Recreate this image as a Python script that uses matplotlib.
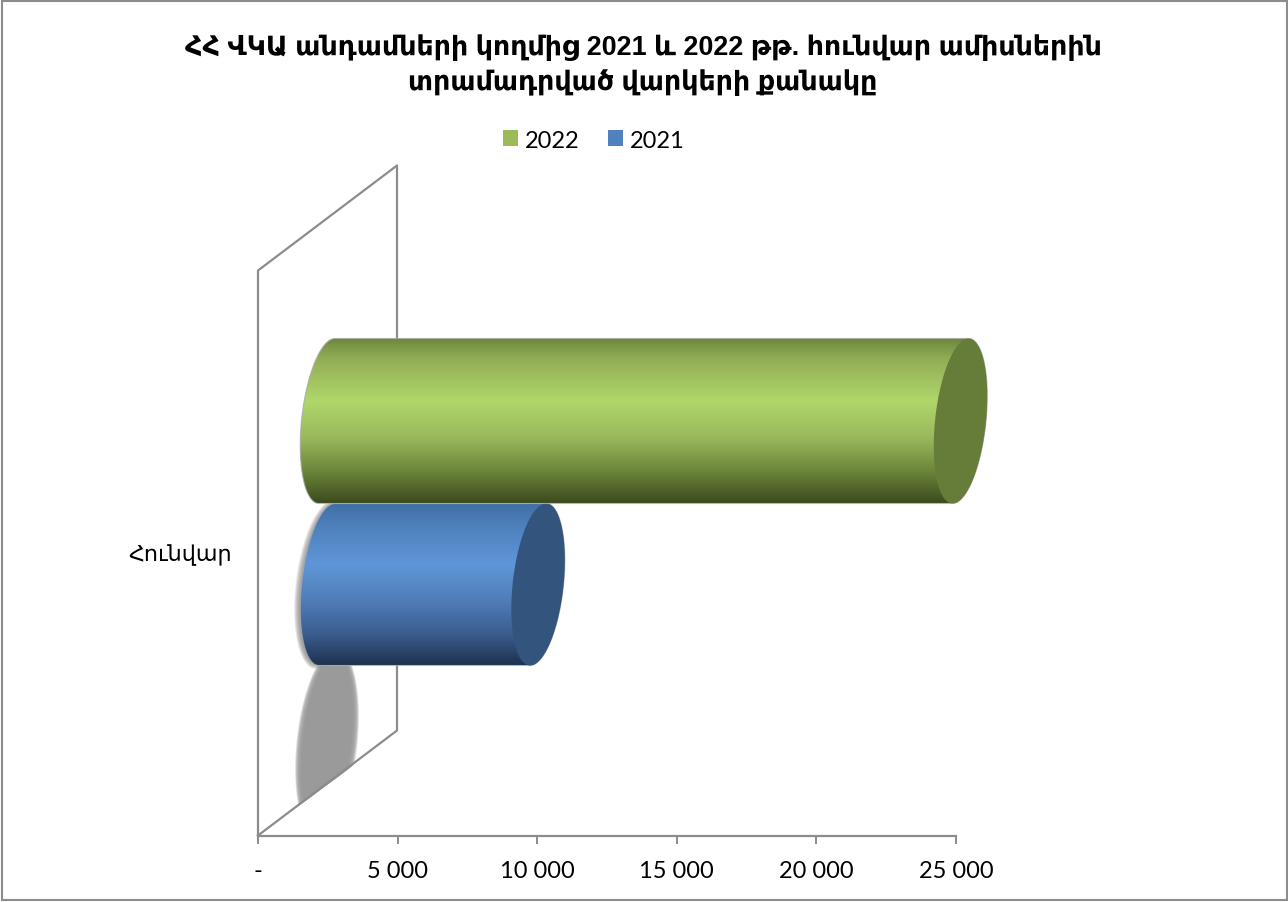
import numpy as np
import matplotlib
matplotlib.use("Agg")
import matplotlib.pyplot as plt
from matplotlib.patches import Polygon, Patch, Rectangle
from matplotlib.colors import LinearSegmentedColormap

title_lines = ["ՀՀ ՎԿԱ անդամների կողմից 2021 և 2022 թթ. հունվար ամիսներին",
               "տրամադրված վարկերի քանակը"]
category = ["Հունվար"]
series_names = ["2022", "2021"]
values_2022 = [22690]
values_2021 = [7560]
x_ticks = [0, 5000, 10000, 15000, 20000, 25000]
x_tick_labels = ["-", "5 000", "10 000", "15 000", "20 000", "25 000"]

plt.rcParams["font.family"] = ["Lato", "Noto Sans", "DejaVu Sans"]

W, H = 1288, 903
fig = plt.figure(figsize=(W / 100, H / 100), dpi=100, facecolor="white")
L, R, T, B = 258, 956, 165, 835
SHIFT = 1.5                     # vertical nudge of the plot area in pixels
ax = fig.add_axes([L / W, 1 - (B + SHIFT) / H, (R - L) / W, (B - T) / H])
ax.patch.set_alpha(0)
PX = 25000 / (R - L)            # data units per pixel


def xd(px):
    return (np.asarray(px, dtype=float) - L) * PX


GRID = "#8c8c8c"
ax.add_line(plt.Line2D(xd([258, 258, 397, 397, 258]),
                       [835, 270, 165, 730, 835], color=GRID, lw=1.6, clip_on=False))


def ellipse(cx, cy, a, b, k, t0=0, t1=2 * np.pi, n=120):
    t = np.linspace(t0, t1, n)
    return cx + a * np.cos(t) + k * np.sin(t), cy - b * np.sin(t)


def soft(cx, cy, a, b, k, colour, clip=None, zorder=2, alpha=.2):
    for grow in np.arange(3.5, -3.6, -.7):
        px, py = ellipse(cx, cy, a + grow, b + grow, k)
        p = Polygon(np.c_[xd(px), py], closed=True, fc=colour, ec="none",
                    alpha=alpha, zorder=zorder, clip_on=False)
        ax.add_patch(p)
        if clip is not None:
            p.set_clip_path(clip)
            p.set_clip_on(True)


clip_poly = Polygon(np.c_[xd([258, 258, 397, 420, 420, 258]),
                          [835, 600, 600, 600, 715, 835]],
                    closed=True, transform=ax.transData, fc="none", ec="none")
ax.add_patch(clip_poly)
soft(327, 742, 27, 90, 9, "#9a9a9a", clip=clip_poly, zorder=1.5, alpha=.3)
soft(325, 584, 26, 81, 9, "#8a8a8a", zorder=1.6, alpha=.15)


def cylinder(value, y0, y1, stops, cap, zorder):
    base_px = 327.0
    x0 = float(xd(base_px))
    x1 = x0 + value
    end_px = L + x1 / PX
    cy, b = (y0 + y1) / 2, (y1 - y0) / 2
    a, k = 25.5, 8.0
    lx, ly = ellipse(base_px, cy, a, b, k, np.pi / 2, 3 * np.pi / 2)
    rx, ry = ellipse(end_px, cy, a, b, k, -np.pi / 2, np.pi / 2)
    body = np.c_[np.r_[xd(lx), xd(rx)], np.r_[ly, ry]]
    cmap = LinearSegmentedColormap.from_list("c", stops)
    grad = np.linspace(0, 1, 256)[:, None]
    im = ax.imshow(grad, cmap=cmap, aspect="auto", zorder=zorder,
                   extent=[body[:, 0].min(), body[:, 0].max(), y1, y0],
                   interpolation="bilinear")
    im.set_clip_box(fig.bbox)
    im.set_clip_path(Polygon(body, closed=True, transform=ax.transData))
    ax.add_patch(Polygon(body, closed=True, fc="none", ec="#a8a8a8", lw=.8,
                         alpha=.8, zorder=zorder + .1, clip_on=False))
    ex, ey = ellipse(end_px, cy, a, b, k)
    ax.add_patch(Polygon(np.c_[xd(ex), ey], closed=True, fc=cap, ec="none",
                         zorder=zorder + .2, clip_on=False))


blue = [(0, "#416ea5"), (.15, "#4e82be"), (.38, "#5f96d7"), (.6, "#507db9"),
        (.8, "#3c5f91"), (1, "#1e3250")]
green = [(0, "#6c873c"), (.12, "#91ac55"), (.38, "#b0d76b"), (.6, "#9bb95c"),
         (.8, "#6e873c"), (1, "#3c4b1e")]
cylinder(values_2021[0], 503, 665, blue, "#32547d", 3)
cylinder(values_2022[0], 338, 503, green, "#667d39", 4)

ax.set_xlim(0, 25000)
ax.set_ylim(B, T)
for s in ["top", "left", "right"]:
    ax.spines[s].set_visible(False)
ax.spines["bottom"].set_color(GRID)
ax.spines["bottom"].set_linewidth(1.6)
ax.set_xticks(x_ticks, x_tick_labels, fontsize=17, color="#000000")
ax.tick_params(axis="x", length=6, width=1.4, color=GRID, pad=11.5)
ax.set_yticks([551.5], category, fontsize=16)
ax.tick_params(axis="y", length=0, pad=19)

fig.text(643 / W, 1 - 65 / H, "\n".join(title_lines), ha="center", va="center",
         fontsize=19.4, fontweight="bold", linespacing=1.42,
         family=["Liberation Sans", "DejaVu Sans"])
handles = [Patch(fc="#9bbb59"), Patch(fc="#4f81bd")]
fig.legend(handles, series_names, loc="center", bbox_to_anchor=(594 / W, 1 - 141 / H),
           ncol=2, frameon=False, fontsize=17, handlelength=.63, handleheight=.63,
           handletextpad=.3, columnspacing=1.2)

fig.add_artist(Rectangle((1.5 / W, 2 / H), (W - 3) / W, (H - 4) / H, transform=fig.transFigure,
                         fill=False, ec="#8c8c8c", lw=1.5))
fig.savefig("out.png", dpi=100)
